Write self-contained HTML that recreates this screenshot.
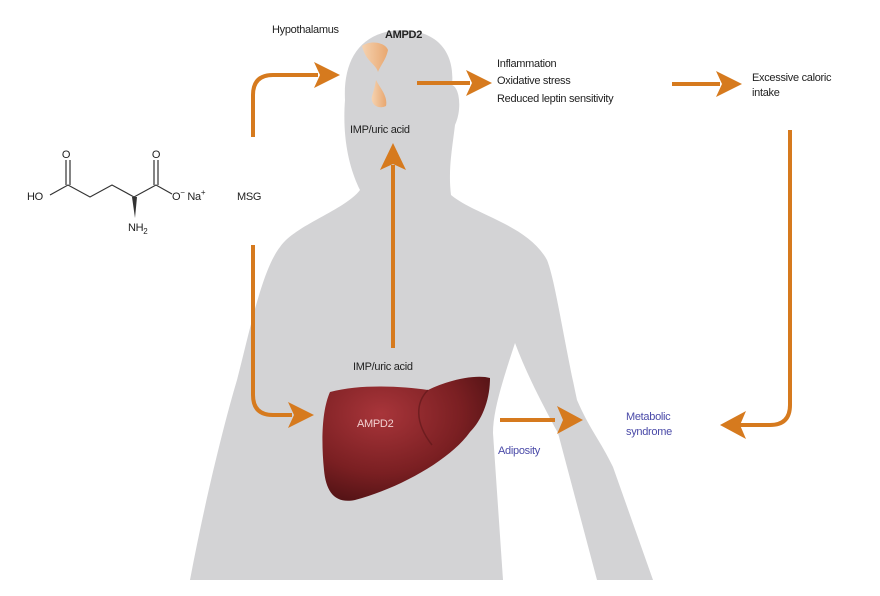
<!DOCTYPE html>
<html><head><meta charset="utf-8"><style>
html,body{margin:0;padding:0;background:#fff}
svg{display:block}
text{font-family:"Liberation Sans",sans-serif;font-size:11px;fill:#222;letter-spacing:-0.3px}
</style></head><body>
<svg width="880" height="596" viewBox="0 0 880 596" xmlns="http://www.w3.org/2000/svg">
<defs>
<radialGradient id="lv" cx="0.35" cy="0.3" r="0.8">
<stop offset="0" stop-color="#a8353a"/><stop offset="0.6" stop-color="#7a1f22"/><stop offset="1" stop-color="#4a1012"/>
</radialGradient>
<linearGradient id="hy" x1="0" x2="1"><stop offset="0" stop-color="#f5d2b0"/><stop offset="1" stop-color="#e8a770"/></linearGradient>
</defs>
<!-- body silhouette -->
<path fill="#d3d3d5" d="M360 190 C350 170 342 140 345 100 C343 60 360 32 400 30 C440 30 455 55 452 85 C460 88 462 110 455 125 C452 150 448 170 451 195 C475 215 528 225 547 260 C555 280 562 330 577 400 C590 430 600 440 613 467 L653 580 L597 580 L558 433 C540 400 525 370 515 343 C503 380 493 410 493 433 L503 580 L190 580 C205 500 225 420 237 380 C250 330 262 270 280 247 C295 225 345 210 360 190 Z"/>
<!-- hypothalamus -->
<path fill="url(#hy)" d="M362 46 C370 40 385 42 388 50 C386 60 380 66 378 72 C376 64 366 62 362 46 Z"/>
<path fill="url(#hy)" d="M376 80 C380 88 388 96 386 106 C378 110 370 104 372 96 C374 90 375 86 376 80 Z"/>
<!-- liver -->
<path fill="url(#lv)" d="M330 392 C360 384 400 386 428 390 C448 380 476 374 490 378 C490 400 482 420 470 432 C450 460 400 488 355 500 C335 504 326 492 324 470 C321 440 322 410 330 392 Z"/>
<path d="M428 390 C416 402 414 422 432 445" stroke="#5a1518" stroke-width="1.5" fill="none" opacity="0.6"/>
<!-- arrows -->
<g stroke="#d67a1e" stroke-width="4" fill="none">
<path d="M253 137 V95 Q253 75 273 75 H318"/>
<path d="M253 245 V395 Q253 415 273 415 H292"/>
<path d="M393 348 V165"/>
<path d="M417 83 H470"/>
<path d="M672 84 H720"/>
<path d="M790 130 V405 Q790 425 770 425 H740"/>
<path d="M500 420 H555"/>
</g>
<g fill="#d67a1e">
<path d="M314 62 L340 75 L314 88 L320 75Z"/>
<path d="M288 402 L314 415 L288 428 L294 415Z"/>
<path d="M380 170 L393 143 L406 170 L393 164Z"/>
<path d="M466 70 L492 83 L466 96 L472 83Z"/>
<path d="M716 71 L742 84 L716 97 L722 84Z"/>
<path d="M557 406 L583 420 L557 434 L563 420Z"/>
<path d="M746 411 L720 425 L746 439 L740 425Z"/>
</g>
<!-- molecule -->
<g stroke="#333" stroke-width="1.2" fill="none">
<path d="M50 195 L68 185 L90 197 L112 185 L134 197 L156 185 L172 194"/>
<path d="M66 185 V160 M70 185 V160 M154 185 V160 M158 185 V160"/>
</g>
<path d="M132 197 L137 197 L135 218 Z" fill="#333"/>
<text x="66" y="158" text-anchor="middle">O</text>
<text x="156" y="158" text-anchor="middle">O</text>
<text x="27" y="200">HO</text>
<text x="172" y="200">O<tspan dy="-5" font-size="8">−</tspan><tspan dy="5"> Na</tspan><tspan dy="-5" font-size="8">+</tspan></text>
<text x="128" y="231">NH<tspan dy="3" font-size="8">2</tspan></text>
<text x="237" y="200">MSG</text>
<text x="272" y="33">Hypothalamus</text>
<text x="385" y="38" font-weight="bold" font-size="10">AMPD2</text>
<text x="350" y="133">IMP/uric acid</text>
<text x="497" y="67">Inflammation</text>
<text x="497" y="84">Oxidative stress</text>
<text x="497" y="102">Reduced leptin sensitivity</text>
<text x="752" y="81">Excessive caloric</text>
<text x="752" y="96">intake</text>
<text x="353" y="370">IMP/uric acid</text>
<text x="357" y="427" style="fill:#f2d0d0">AMPD2</text>
<text x="498" y="454" style="fill:#4a4aa8">Adiposity</text>
<text x="626" y="420" style="fill:#4a4aa8">Metabolic</text>
<text x="626" y="435" style="fill:#4a4aa8">syndrome</text>
</svg>
</body></html>
